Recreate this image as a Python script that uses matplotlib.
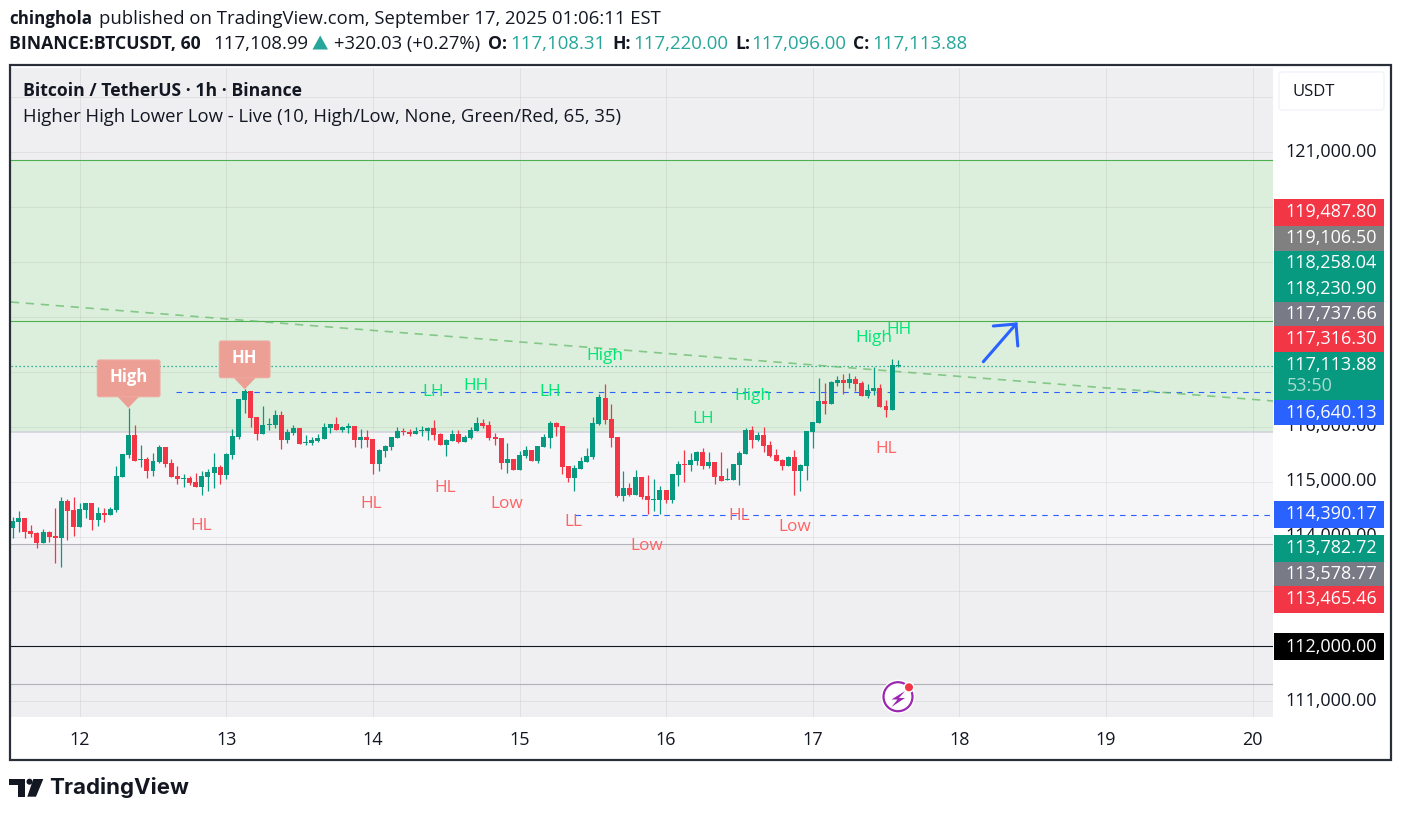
#!/usr/bin/env python
"""Redraw of a BTCUSDT 1h TradingView snapshot."""

import matplotlib
matplotlib.use('Agg')
import matplotlib.pyplot as plt
import matplotlib.transforms as mtrans
import numpy as np
from matplotlib.patches import Circle, FancyBboxPatch, Polygon, Rectangle

plt.rcParams['font.family'] = ['Open Sans', 'DejaVu Sans']

# hourly candles, first one is Sep 11 13:00
opens = [114156, 114266, 114339, 114102, 114065, 113883, 114084, 114011, 113974, 114648,
         114484, 114175, 114484, 114612, 114302, 114430, 114393, 114484, 115085, 115486,
         115851, 115395, 115413, 115195, 115359, 115632, 115340, 115104, 115055, 115067,
         114994, 114903, 115085, 115158, 115268, 115122, 115486, 115814, 116488, 116652,
         116178, 115869, 116033, 116033, 116215, 115759, 115887, 115978, 115705, 115705,
         115741, 115778, 115978, 116051, 115942, 115978, 116014, 115759, 115814, 115778,
         115322, 115559, 115632, 115796, 115923, 115905, 115869, 115930, 115923, 115978,
         115869, 115668, 115741, 115869, 115723, 115796, 115923, 116069, 116033, 115814,
         115796, 115340, 115413, 115213, 115468, 115577, 115377, 115632, 115796, 116069,
         116014, 115286, 115067, 115231, 115359, 115450, 116051, 116524, 116142, 115814,
         114739, 114885, 114758, 115085, 114739, 114672, 114666, 114848, 114666, 115121,
         115322, 115304, 115376, 115540, 115285, 115358, 115103, 115030, 115030, 115304,
         115504, 115941, 115759, 115850, 115668, 115486, 115395, 115285, 115449, 115194,
         115285, 115905, 116069, 116469, 116415, 116797, 116852, 116797, 116870, 116797,
         116560, 116651, 116706, 116378, 116305, 117108.31]
highs = [114357, 114466, 114339, 114211, 114084, 114138, 114102, 114521, 114721, 114685,
         114721, 114612, 114612, 114612, 114539, 114521, 114539, 115286, 115504, 116342,
         116033, 115668, 115450, 115523, 115668, 115632, 115413, 115286, 115140, 115104,
         115158, 115195, 115231, 115523, 115304, 115523, 115960, 116506, 116688, 116652,
         116178, 116379, 116160, 116306, 116288, 115960, 116033, 115978, 115851, 115814,
         115869, 116069, 116051, 116178, 116014, 116069, 116014, 115960, 115942, 115778,
         115595, 115668, 115814, 115996, 115978, 115960, 115996, 116014, 115996, 116124,
         115887, 115778, 115942, 115942, 115851, 115996, 116178, 116142, 116105, 115887,
         115796, 115705, 115413, 115559, 115650, 115577, 115650, 115869, 116105, 116087,
         116014, 115286, 115304, 115450, 115614, 116178, 116597, 116779, 116415, 115814,
         115195, 114976, 115213, 115085, 115121, 115049, 114921, 114848, 115140, 115376,
         115577, 115522, 115558, 115613, 115540, 115358, 115540, 115249, 115322, 115558,
         115977, 116014, 115905, 115996, 115741, 115595, 115413, 115467, 115577, 115322,
         115923, 116087, 116888, 116797, 116834, 116925, 116961, 116979, 116925, 116834,
         116779, 117089, 116779, 116488, 117234, 117220.00]
lows = [113974, 114084, 113974, 113992, 113792, 113883, 113901, 113519, 113446, 113938,
        114011, 114175, 114339, 114120, 114193, 114266, 114393, 114448, 115085, 115431,
        115377, 115268, 115067, 115104, 115340, 115268, 115085, 114958, 114903, 114940,
        114903, 114758, 114830, 114885, 114958, 115049, 115413, 115778, 116251, 115996,
        115759, 115869, 115942, 115978, 115595, 115705, 115851, 115687, 115668, 115668,
        115723, 115778, 115887, 115942, 115905, 115887, 115632, 115614, 115632, 115140,
        115195, 115450, 115577, 115796, 115851, 115832, 115869, 115832, 115759, 115759,
        115668, 115468, 115741, 115705, 115723, 115778, 115923, 115978, 115759, 115668,
        115231, 115158, 115213, 115213, 115431, 115377, 115340, 115632, 115614, 115832,
        115140, 114994, 114830, 115231, 115359, 115413, 116033, 116051, 115632, 114721,
        114648, 114739, 114758, 114684, 114411, 114466, 114411, 114611, 114611, 114921,
        114994, 115194, 115304, 115231, 115249, 114957, 115012, 115030, 115030, 114939,
        115504, 115613, 115741, 115540, 115449, 115376, 115212, 115285, 114757, 114830,
        115030, 115613, 116069, 116233, 116415, 116743, 116597, 116706, 116651, 116560,
        116524, 116579, 116360, 116178, 116305, 117096.00]
closes = [114284, 114339, 114084, 114047, 113883, 114084, 113992, 113974, 114648, 114466,
          114175, 114503, 114612, 114302, 114430, 114393, 114503, 115104, 115504, 115851,
          115377, 115413, 115195, 115377, 115632, 115322, 115085, 115049, 115067, 114976,
          114903, 115104, 115176, 115268, 115122, 115504, 115832, 116506, 116652, 116160,
          115869, 116033, 116051, 116215, 115759, 115905, 115978, 115687, 115723, 115759,
          115796, 115996, 116051, 115942, 115996, 116014, 115759, 115814, 115759, 115322,
          115577, 115650, 115814, 115923, 115905, 115869, 115923, 115942, 115978, 115851,
          115668, 115759, 115869, 115723, 115814, 115942, 116069, 116014, 115796, 115778,
          115340, 115413, 115213, 115486, 115577, 115377, 115650, 115814, 116069, 115996,
          115268, 115067, 115249, 115377, 115468, 116069, 116543, 116124, 115796, 114739,
          114885, 114758, 115085, 114721, 114666, 114684, 114848, 114666, 115140, 115322,
          115310, 115395, 115540, 115285, 115358, 115085, 115012, 115049, 115322, 115522,
          115941, 115759, 115850, 115650, 115467, 115376, 115285, 115449, 115194, 115304,
          115923, 116087, 116469, 116415, 116815, 116852, 116797, 116870, 116779, 116560,
          116670, 116706, 116360, 116305, 117125, 117113.88]

day_ticks = [12, 13, 14, 15, 16, 17, 18, 19, 20]
price_ticks = [111000, 112000, 113000, 114000, 115000, 116000, 117000, 118000, 119000, 120000, 121000, 122000]
# the others sit behind the price tags or the USDT box
shown_prices = [111000, 114000, 115000, 116000, 121000]

# horizontal drawings
zone_top = 120860
zone_mid = 115905
zone_low = 113865
target_line = 117927
round_line = 112000
floor_line = 111315
last_price = 117113.88
blue_high = 116640.13
blue_low = 114390.17
trend_days = [11.53, 20.14]
trend_prices = [118273, 116470]
arrow_days = [18.164, 18.387]
arrow_prices = [117186, 117872]
head_days = [18.232, 18.387, 18.399]
head_prices = [117836, 117872, 117472]

green_labels = ['LH', 'HH', 'LH', 'High', 'LH', 'High', 'High', 'HH']
green_days = [14.41, 14.70, 15.21, 15.58, 16.25, 16.59, 17.42, 17.59]
green_prices = [116652, 116761, 116652, 117308, 116160, 116579, 117636, 117782]
red_labels = ['HL', 'HL', 'HL', 'Low', 'LL', 'Low', 'HL', 'Low', 'HL']
red_days = [12.83, 13.99, 14.49, 14.91, 15.37, 15.87, 16.50, 16.88, 17.50]
red_prices = [114211, 114612, 114903, 114612, 114284, 113847, 114394, 114193, 115613]

tag_texts = ['119,487.80', '119,106.50', '118,258.04', '118,230.90', '117,737.66', '117,316.30',
             '117,113.88', '116,640.13', '114,390.17', '113,782.72', '113,578.77', '113,465.46',
             '112,000.00']

UP = '#089981'
DOWN = '#f23645'
BLUE = '#2962ff'
GREY = '#787b86'
INK = '#131722'
AXIS_FS = 13
HEAD_FS = 13.3
BOLD_FS = 12.7

W, H = 1401, 815
fig = plt.figure(figsize=(W / 100, H / 100), dpi=100, facecolor='white')

# main pane sits at fixed pixels, price and day scales are set to match
left, right, top, bottom = 11, 1273, 68, 717
ax = fig.add_axes([left / W, 1 - bottom / H, (right - left) / W, (bottom - top) / H])
ax.set_facecolor('#efeff2')
ax.set_xlim(12 + (left - 79.7) / 146.6, 12 + (right - 79.7) / 146.6)
ax.set_ylim(121000 - (bottom - 152.3) * 18.215, 121000 - (top - 152.3) * 18.215)
for s in ax.spines.values():
    s.set_visible(False)

ax.yaxis.tick_right()
ax.set_yticks(price_ticks, [f'{p:,.2f}' if p in shown_prices else '' for p in price_ticks])
ax.set_xticks(day_ticks, [str(d) for d in day_ticks])
ax.tick_params(axis='both', length=0, labelsize=AXIS_FS, labelcolor=INK)
ax.tick_params(axis='y', pad=9)
ax.tick_params(axis='x', pad=10)
up_2px = mtrans.ScaledTranslation(0, 2 / 72, fig.dpi_scale_trans)
for lab in ax.get_yticklabels():
    lab.set_transform(lab.get_transform() + up_2px)
ax.grid(True, color='black', alpha=0.06, lw=0.75)
ax.set_axisbelow(False)

ax.axhspan(zone_mid, zone_top, color='#dcefdc', lw=0, zorder=1)
ax.axhspan(zone_low, zone_mid, color='#f6f6f9', lw=0, zorder=1)
ax.axhline(zone_top, color='#4caf50', lw=0.8, zorder=3)
ax.axhline(target_line, color='#4caf50', lw=0.8, zorder=3)
ax.axhline(zone_mid, color='#d1d1db', lw=1.1, zorder=3)
ax.axhline(zone_low, color='#b2b2ba', lw=0.8, zorder=3)
ax.axhline(round_line, color='#131722', lw=0.8, zorder=3)
ax.axhline(floor_line, color='#b2b2ba', lw=0.8, zorder=3)
ax.axhline(last_price, color=UP, lw=0.9, ls=(0, (1, 2.2)), zorder=3)
ax.hlines(blue_high, 12.66, 20.14, color=BLUE, lw=0.8, ls=(0, (5, 5)), zorder=3)
ax.hlines(blue_low, 15.38, 20.14, color=BLUE, lw=0.8, ls=(0, (5, 5)), zorder=3)
ax.plot(trend_days, trend_prices, color='#66bb6a', lw=1.2, ls=(0, (5, 4)), alpha=0.75, zorder=3)

# candles
times = 11 + 13 / 24 + np.arange(len(opens)) / 24
o, h, l, c = map(np.array, (opens, highs, lows, closes))
colors = np.where(c >= o, UP, DOWN)
ax.vlines(times, l, h, colors=colors, lw=0.9, zorder=4)
ax.bar(times, np.maximum(np.abs(c - o), 18), bottom=np.minimum(o, c), width=0.034, color=colors, lw=0, zorder=5)

for name, d, p in zip(green_labels, green_days, green_prices):
    ax.annotate(name, (d, p), xytext=(0, -1), textcoords='offset points', color='#00e676', fontsize=12.4,
                fontweight='medium', ha='center', va='center', zorder=6)
for name, d, p in zip(red_labels, red_days, red_prices):
    ax.annotate(name, (d, p), xytext=(0, -1), textcoords='offset points', color='#ff6464', fontsize=12.4,
                fontweight='medium', ha='center', va='center', zorder=6)

ax.plot(arrow_days, arrow_prices, color=BLUE, lw=2.2, solid_capstyle='round', zorder=7)
ax.plot(head_days, head_prices, color=BLUE, lw=2.2, solid_capstyle='round', solid_joinstyle='miter', zorder=7)

# overlay in pixels for the TradingView chrome
ov = fig.add_axes([0, 0, 1, 1], facecolor='none')
ov.set_xlim(0, W)
ov.set_ylim(H, 0)
ov.axis('off')

ov.add_patch(Rectangle((10, 65.3), 1381, 694.7, fill=False, ec='#2a2e39', lw=1.6))


def callout(x0, x1, y0, y1, tip_x, tip_y, base0, base1, text):
    ov.add_patch(Polygon([(base0, y1 - 1), (tip_x, tip_y), (base1, y1 - 1)], fc='#ec9f95', ec='none'))
    ov.add_patch(FancyBboxPatch((x0 + 2, y0 + 2), x1 - x0 - 4, y1 - y0 - 4, boxstyle='round,pad=2',
                                fc='#ec9f95', ec='#f0a8a0', lw=0.8))
    ov.text((x0 + x1) / 2, (y0 + y1) / 2 - 1, text, color='white', fontsize=12, fontweight='bold',
            ha='center', va='center')


callout(97.3, 160, 360, 396.7, 128.3, 408, 116.7, 140, 'High')
callout(219.3, 270, 341, 377.7, 244.7, 389.3, 232.7, 256.7, 'HH')

# price tags on the right scale
tag_colors = [DOWN, '#808080', UP, UP, GREY, DOWN, UP, BLUE, BLUE, UP, GREY, DOWN, '#000000']
tag_y0 = [199, 225.7, 250.7, 276, 301.7, 325.7, 351.7, 400, 501, 535, 561.7, 585.7, 633.3]
tag_y1 = [225.7, 250.7, 276, 301.7, 325.7, 351.7, 400, 425, 527.7, 561.7, 585.7, 612.7, 660]
for txt, col, y0, y1 in zip(tag_texts, tag_colors, tag_y0, tag_y1):
    ov.add_patch(Rectangle((1274, y0), 110, y1 - y0, fc=col, ec='none'))
    yc = (y0 + y1) / 2 if txt != '117,113.88' else 365
    ov.text(1331, yc, txt, color='white', fontsize=AXIS_FS, ha='center', va='center')
ov.text(1287, 386, '53:50', color='#a8dccf', fontsize=AXIS_FS, ha='left', va='center')

ov.add_patch(FancyBboxPatch((1282, 75), 99, 32, boxstyle='round,pad=3', fc='white', ec='#f0f3fa', lw=1))
ov.text(1293, 92, 'USDT', color=INK, fontsize=12, ha='left', va='center')

# header
ov.text(9, 19, 'chinghola', color=INK, fontsize=BOLD_FS - 0.5, fontweight='bold', ha='left', va='center')
ov.text(99, 19, 'published on TradingView.com, September 17, 2025 01:06:11 EST', color=INK, fontsize=HEAD_FS,
        ha='left', va='center')
ov.text(9, 44, 'BINANCE:BTCUSDT, 60', color=INK, fontsize=BOLD_FS, fontweight='bold', ha='left', va='center')
ov.text(213.6, 44, '117,108.99', color=INK, fontsize=13.4, ha='left', va='center')
ov.add_patch(Polygon([(312.5, 49.5), (320.2, 35.5), (328, 49.5)], fc='#26a69a', ec='none'))
ov.text(333.5, 44, '+320.03 (+0.27%)', color=INK, fontsize=HEAD_FS, ha='left', va='center')
for lx, lab, vx, val in [(488, 'O:', 510, '117,108.31'), (612, 'H:', 633, '117,220.00'),
                         (735, 'L:', 751, '117,096.00'), (852.7, 'C:', 872.5, '117,113.88')]:
    ov.text(lx, 44, lab, color=INK, fontsize=BOLD_FS, fontweight='bold', ha='left', va='center')
    ov.text(vx, 44, val, color='#26a69a', fontsize=13.4, ha='left', va='center')

ov.text(23, 91, 'Bitcoin / TetherUS · 1h · Binance', color=INK, fontsize=BOLD_FS, fontweight='bold', ha='left', va='center')
ov.text(23, 117, 'Higher High Lower Low - Live (10, High/Low, None, Green/Red, 65, 35)', color=INK, fontsize=HEAD_FS,
        ha='left', va='center')

# bolt badge
ov.add_patch(Circle((898, 696.7), 17, fc='white', ec='none'))
ov.add_patch(Circle((898, 696.7), 14.5, fc='white', ec='#9c27b0', lw=1.6))
ov.add_patch(Polygon([(905, 691), (891.5, 699.5), (897.5, 699.5), (891.5, 707), (905, 698), (899, 698)], fc='#9c27b0', ec='none'))
ov.add_patch(Circle((909, 687.3), 5.5, fc='white', ec='none'))
ov.add_patch(Circle((909, 687.3), 4, fc='#f23645', ec='none'))

# logo
ov.add_patch(Polygon([(9, 779), (25, 779), (25, 796.7), (17.7, 796.7), (17.7, 785), (9, 785)], fc=INK, ec='none'))
ov.add_patch(Circle((29.5, 781.7), 3, fc=INK, ec='none'))
ov.add_patch(Polygon([(33.3, 779), (43.3, 779), (36, 796.7), (27.3, 796.7)], fc=INK, ec='none'))
ov.text(49, 788, 'TradingView', color=INK, fontsize=16, fontweight='bold', ha='left', va='center',
        family=['Inter', 'DejaVu Sans'])

fig.savefig('out.png', dpi=100)
